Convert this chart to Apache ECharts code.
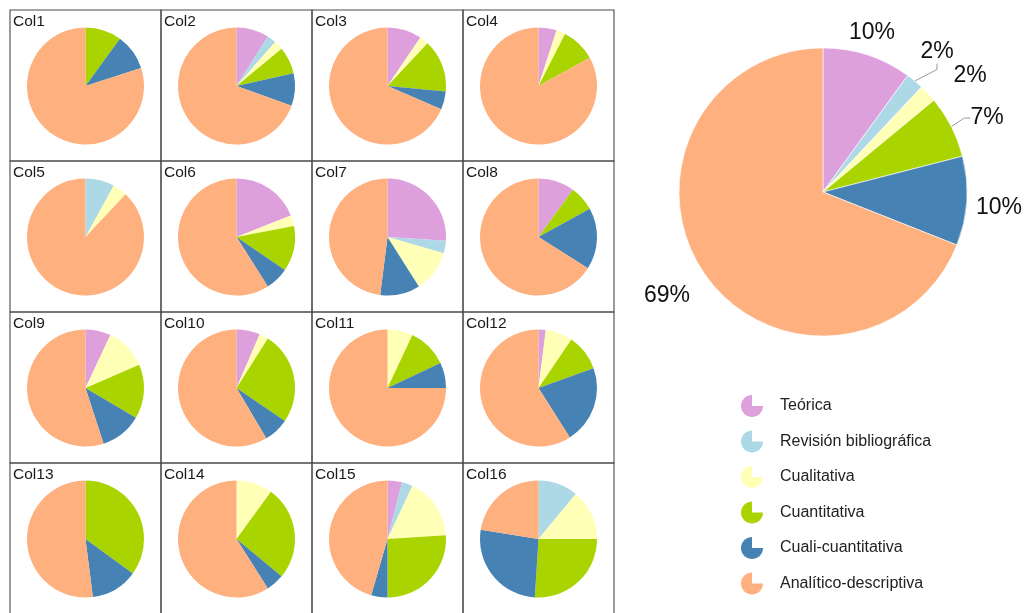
<!DOCTYPE html>
<html>
<head>
<meta charset="utf-8">
<title>Tipos de investigación</title>
<script src="https://cdn.jsdelivr.net/npm/echarts@6/dist/echarts.min.js"></script>
<style>
  html, body { margin: 0; padding: 0; background: #ffffff; }
  #chart { width: 1026px; height: 613px; }
</style>
</head>
<body>
<div id="chart"></div>
<script>
// Research-type categories, in slice order (clockwise from 12 o'clock)
const categories = [
  'Teórica',
  'Revisión bibliográfica',
  'Cualitativa',
  'Cuantitativa',
  'Cuali-cuantitativa',
  'Analítico-descriptiva'
];

// Panel titles of the 4x4 grid
const panelNames = ['Col1', 'Col2', 'Col3', 'Col4', 'Col5', 'Col6', 'Col7', 'Col8',
                    'Col9', 'Col10', 'Col11', 'Col12', 'Col13', 'Col14', 'Col15', 'Col16'];

// Share (%) of each category per column
const col1  = [0, 0, 0, 10, 10, 80];
const col2  = [9, 2.5, 2.5, 7.5, 9, 69.5];
const col3  = [9.5, 0, 2.5, 14.5, 5, 68.5];
const col4  = [5, 0, 2.5, 9.5, 0, 83];
const col5  = [0, 8, 4, 0, 0, 88];
const col6  = [19, 0, 3, 12.5, 6.5, 59];
const col7  = [26, 3.5, 11.5, 0, 11, 48];
const col8  = [10, 0, 0, 7, 17, 66];
const col9  = [7, 0, 11.5, 15, 11.5, 55];
const col10 = [6.5, 0, 2.5, 25.5, 7, 58.5];
const col11 = [0, 0, 7, 11, 7, 75];
const col12 = [2, 0, 7.5, 10, 21.5, 59];
const col13 = [0, 0, 0, 35, 13, 52];
const col14 = [0, 0, 10, 26, 5, 59];
const col15 = [4, 3, 17, 26, 4.5, 45.5];
const col16 = [0, 11, 14, 26, 26.5, 22.5];
const panels = [col1, col2, col3, col4, col5, col6, col7, col8,
                col9, col10, col11, col12, col13, col14, col15, col16];

// Overall distribution (%)
const overall = [10, 2, 2, 7, 10, 69];

const colors = ['#dda0dd', '#add8e6', '#ffffb8', '#aad400', '#4682b4', '#ffb07f'];
const FONT = '"Liberation Sans", Arial, sans-serif';

// Grid geometry
const GX = 10, GY = 10, CW = 151, CH = 151, COLS = 4, R = 58.5;

// Legend icon: a disc with its upper-right quarter cut away
function quarterCutIcon() {
  const pts = ['M10,10', 'L10,0'];
  for (let a = 0; a <= 270; a += 10) {
    const t = (a * Math.PI) / 180;
    // counter-clockwise from 12 o'clock round to 3 o'clock
    pts.push('L' + (10 - 10 * Math.sin(t)).toFixed(3) + ',' + (10 - 10 * Math.cos(t)).toFixed(3));
  }
  pts.push('Z');
  return 'path://' + pts.join(' ');
}

const series = [];
const graphics = [];

panels.forEach(function (vals, i) {
  const c = i % COLS, r = Math.floor(i / COLS);
  const x0 = GX + c * CW, y0 = GY + r * CH;
  graphics.push({
    type: 'rect', silent: true,
    shape: { x: x0, y: y0, width: CW, height: CH },
    style: { fill: 'none', stroke: '#4a4a4a', lineWidth: 1.1 }
  });
  graphics.push({
    type: 'text', silent: true, z: 10,
    style: { text: panelNames[i], x: x0 + 3, y: y0 + 4, font: '15.5px ' + FONT, fill: '#1a1a1a' }
  });
  series.push({
    type: 'pie',
    center: [x0 + CW / 2, y0 + CH / 2 + 0.5],
    radius: R,
    startAngle: 90,
    clockwise: true,
    silent: true,
    animation: false,
    label: { show: false },
    labelLine: { show: false },
    itemStyle: { borderWidth: 0 },
    data: categories.map(function (name, k) { return { name: name, value: vals[k] }; })
  });
});

// Fixed label spots around the overall pie
const labelSpots = [
  { x: 872, y: 33, line: false },
  { x: 937, y: 52, line: true },
  { x: 970, y: 76, line: false },
  { x: 987, y: 118, line: true },
  { x: 999, y: 208, line: false },
  { x: 667, y: 296, line: false }
];

series.push({
  type: 'pie',
  center: [823, 192],
  radius: 144,
  startAngle: 90,
  clockwise: true,
  silent: true,
  animation: false,
  percentPrecision: 0,
  itemStyle: { borderColor: '#ffffff', borderWidth: 0.6 },
  label: {
    show: true,
    position: 'outside',
    formatter: '{d}%',
    fontFamily: FONT,
    fontSize: 23,
    color: '#111',
    overflow: 'none',
    width: 80
  },
  labelLine: { show: true, length: 6, length2: 6, lineStyle: { color: '#999', width: 1 } },
  labelLayout: function (params) {
    const s = labelSpots[params.dataIndex];
    return { x: s.x, y: s.y, align: 'center', verticalAlign: 'middle' };
  },
  data: categories.map(function (name, k) {
    return {
      name: name,
      value: overall[k],
      labelLine: { show: labelSpots[k].line }
    };
  })
});

const chart = echarts.init(document.getElementById('chart'), null, { renderer: 'canvas' });
chart.setOption({
  animation: false,
  color: colors,
  legend: {
    orient: 'vertical',
    left: 736,
    top: 390,
    itemWidth: 22,
    itemHeight: 22,
    itemGap: 13.5,
    icon: quarterCutIcon(),
    selectedMode: false,
    data: categories,
    textStyle: { fontFamily: FONT, fontSize: 16, color: '#222', padding: [0, 0, 0, 12] }
  },
  graphic: graphics,
  series: series
});
</script>
</body>
</html>
